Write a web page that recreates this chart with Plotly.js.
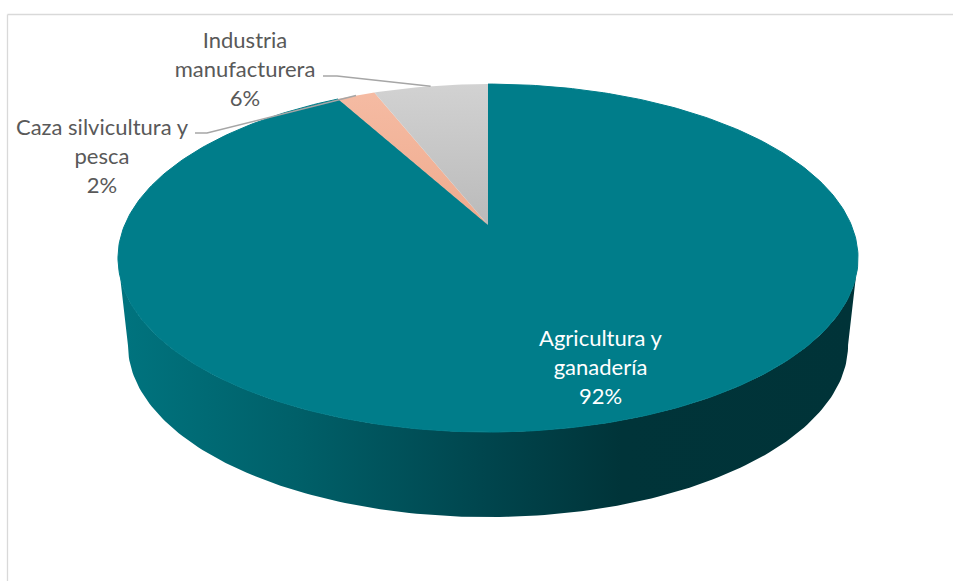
<!DOCTYPE html>
<html lang="es">
<head>
<meta charset="utf-8">
<title>Sectores</title>
<script src="https://cdn.plot.ly/plotly-3.0.1.min.js"></script>
<style>
  html, body { margin: 0; padding: 0; background: #fff; overflow: hidden; }
  #chart { width: 953px; height: 581px; }
</style>
</head>
<body>
<div id="chart"></div>
<script>
// Shares of each sector, clockwise from twelve o'clock
const categories = ['Agricultura y ganadería', 'Caza silvicultura y pesca', 'Industria manufacturera'];
const shares = [92, 2, 6];
const labelLines = [['Agricultura y', 'ganadería'], ['Caza silvicultura y', 'pesca'], ['Industria', 'manufacturera']];

const teal = '#007d8a';
const labelColor = ['#ffffff', '#595959', '#595959'];
const sliceFill = [
  { color: teal, edge: 1 },
  { gradient: [[0, '#efab8e'], [1, '#f5bba3']] },
  { gradient: [[0, '#bababa'], [1, '#d2d2d2']] }
];
const sideStops = [[0, '#00747f'], [0.24, '#006069'], [0.5, '#00454d'], [0.68, '#003439'], [1, '#003338']];

// Perspective projection of the tilted disc: far rim smaller, near rim larger
const tilt = 0.19;
const topFace = { cx: 488, cy: 225, rx: 363.3, ry: 167.7 };
const baseFace = { cx: 488, cy: 312.4, rx: 353.5, ry: 165.8 };

function project(face, deg) {
  const a = deg * Math.PI / 180;
  const u = Math.sin(a), v = Math.cos(a), w = 1 + tilt * v;
  return [face.cx + face.rx * u / w, face.cy - face.ry * v / w];
}
function arc(face, from, to) {
  const n = Math.max(2, Math.ceil(Math.abs(to - from)));
  const pts = [];
  for (let i = 0; i <= n; i++) pts.push(project(face, from + (to - from) * i / n));
  return pts;
}
function polygon(pts, style, name) {
  const t = {
    type: 'scatter', mode: 'lines', name: name, hoverinfo: 'skip', showlegend: false,
    x: pts.map(p => p[0]), y: pts.map(p => p[1]),
    line: style.edge ? { width: style.edge, color: style.color } : { width: 0 },
    fill: 'toself'
  };
  if (style.gradient) {
    t.fillcolor = style.gradient[0][1];
    t.fillgradient = { type: style.gradientType || 'vertical', colorscale: style.gradient };
  } else {
    t.fillcolor = style.color;
  }
  return t;
}

const traces = [];

// Visible outer wall of the disc, between the two silhouette points
const edge = Math.acos(-tilt) * 180 / Math.PI;
const wall = arc(topFace, edge, 360 - edge).concat(arc(baseFace, 360 - edge, edge));
traces.push(polygon(wall, { gradient: sideStops, gradientType: 'horizontal' }, 'lateral'));

// Top face wedges, swept from the shares
const total = shares.reduce((s, v) => s + v, 0);
const mids = [];
let sweep = 0;
shares.forEach((v, i) => {
  const from = sweep, to = sweep + v / total * 360;
  sweep = to;
  mids.push((from + to) / 2);
  const pts = [[topFace.cx, topFace.cy]].concat(arc(topFace, from, to));
  pts.push([topFace.cx, topFace.cy]);
  traces.push(polygon(pts, sliceFill[i], categories[i]));
});

// Leader lines from the label to the middle of each small wedge's rim
const leaderStarts = { 1: [[195, 133], [207, 133]], 2: [[323, 76], [337, 76]] };
Object.keys(leaderStarts).forEach(k => {
  const pts = leaderStarts[k].concat([project(topFace, mids[k])]);
  traces.push({
    type: 'scatter', mode: 'lines', hoverinfo: 'skip', showlegend: false,
    x: pts.map(p => p[0]), y: pts.map(p => p[1]),
    line: { color: '#a6a6a6', width: 1.5 }
  });
});

// Data labels: category lines followed by the percentage
const labelAnchors = [[600.5, 340], [102, 129], [245, 42]];
const lineGap = 29;
const textX = [], textY = [], textS = [], textC = [];
categories.forEach((c, i) => {
  labelLines[i].concat([shares[i] + '%']).forEach((s, j) => {
    textX.push(labelAnchors[i][0]);
    textY.push(labelAnchors[i][1] + j * lineGap);
    textS.push(s);
    textC.push(labelColor[i]);
  });
});
traces.push({
  type: 'scatter', mode: 'text', hoverinfo: 'skip', showlegend: false,
  x: textX, y: textY, text: textS, textposition: 'middle center',
  textfont: { family: 'Lato, "Open Sans", sans-serif', size: 22, color: textC }
});

const layout = {
  width: 953, height: 581,
  margin: { l: 0, r: 0, t: 0, b: 0 },
  paper_bgcolor: '#ffffff', plot_bgcolor: '#ffffff',
  xaxis: { range: [0, 953], visible: false, fixedrange: true },
  yaxis: { range: [581, 0], visible: false, fixedrange: true },
  showlegend: false,
  shapes: [
    // Chart frame, running off the right and bottom edges
    { type: 'line', xref: 'x', yref: 'y', x0: 7.5, y0: 14.5, x1: 953, y1: 14.5, line: { color: '#d9d9d9', width: 1.3 } },
    { type: 'line', xref: 'x', yref: 'y', x0: 7.5, y0: 14.5, x1: 7.5, y1: 581, line: { color: '#d9d9d9', width: 1.3 } }
  ]
};

Plotly.newPlot('chart', traces, layout, { displayModeBar: false, staticPlot: true });
</script>
</body>
</html>
